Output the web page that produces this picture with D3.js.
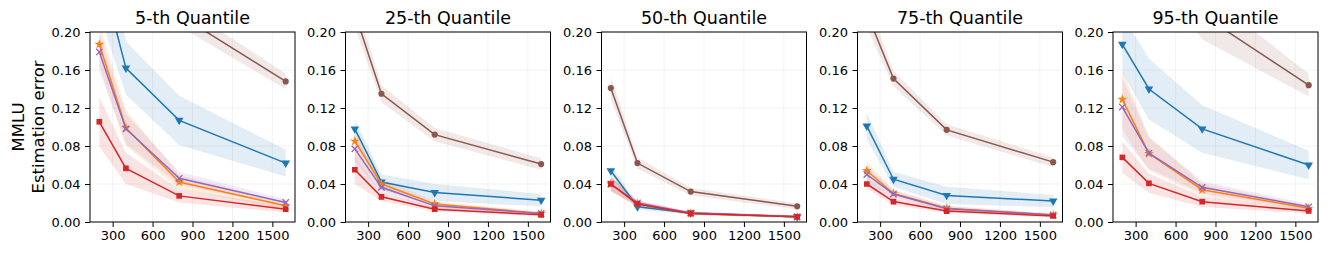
<!DOCTYPE html>
<html><head><meta charset="utf-8">
<script src="https://cdn.jsdelivr.net/npm/d3@7"></script>
<style>body{margin:0;background:#fff}svg{display:block;font-family:"DejaVu Sans",sans-serif}</style>
</head><body><svg id="c" width="1328" height="255"></svg>
<script>
const sampleSizes = [200, 400, 800, 1600];
const panelTitles = ["5-th Quantile", "25-th Quantile", "50-th Quantile", "75-th Quantile", "95-th Quantile"];
const xTicks = [300, 600, 900, 1200, 1500];
const yTicks = [0, 0.04, 0.08, 0.12, 0.16, 0.2];

const brownMean = [[0.42,0.30,0.218,0.148],[0.22,0.135,0.092,0.061],[0.141,0.062,0.032,0.0165],[0.22,0.151,0.097,0.063],[0.40,0.30,0.218,0.144]];
const brownErr  = [[0.03,0.02,0.012,0.008],[0.015,0.009,0.007,0.006],[0.012,0.006,0.004,0.003],[0.015,0.008,0.006,0.005],[0.04,0.03,0.026,0.012]];
const blueMean  = [[0.27,0.162,0.107,0.062],[0.098,0.042,0.031,0.023],[0.054,0.016,0.0095,0.0055],[0.101,0.045,0.028,0.022],[0.187,0.140,0.098,0.060]];
const blueErr   = [[0.05,0.028,0.026,0.014],[0.01,0.008,0.009,0.0065],[0.006,0.003,0.0015,0.0015],[0.014,0.008,0.009,0.0065],[0.03,0.032,0.025,0.015]];
const orangeMean= [[0.187,0.099,0.042,0.017],[0.085,0.040,0.019,0.009],[0.040,0.0195,0.009,0.0055],[0.054,0.030,0.0145,0.0075],[0.129,0.072,0.034,0.0145]];
const orangeErr = [[0.022,0.019,0.0075,0.0035],[0.015,0.006,0.003,0.0018],[0.007,0.003,0.0015,0.001],[0.0095,0.004,0.0025,0.0015],[0.031,0.018,0.0065,0.0025]];
const purpleMean= [[0.179,0.098,0.046,0.0205],[0.077,0.0365,0.017,0.009],[0.040,0.020,0.0095,0.0055],[0.050,0.0295,0.014,0.0075],[0.121,0.0725,0.0365,0.016]];
const purpleErr = [[0.02,0.016,0.007,0.0035],[0.0135,0.0055,0.003,0.0018],[0.007,0.003,0.0015,0.001],[0.009,0.004,0.0025,0.0015],[0.031,0.0165,0.0065,0.003]];
const redMean   = [[0.1055,0.0565,0.0275,0.0135],[0.055,0.0265,0.0135,0.0075],[0.040,0.019,0.009,0.0055],[0.040,0.0215,0.0115,0.0063],[0.068,0.0407,0.0214,0.0116]];
const redErr    = [[0.026,0.0165,0.007,0.0035],[0.015,0.0045,0.0025,0.0015],[0.008,0.003,0.0015,0.001],[0.005,0.0035,0.002,0.0013],[0.0165,0.01,0.0055,0.0025]];

const series = [
  {mean: brownMean,  err: brownErr,  color: "#8c564b", marker: "circle"},
  {mean: blueMean,   err: blueErr,   color: "#1f77b4", marker: "tridown"},
  {mean: orangeMean, err: orangeErr, color: "#ff7f0e", marker: "star"},
  {mean: purpleMean, err: purpleErr, color: "#9467bd", marker: "x"},
  {mean: redMean,    err: redErr,    color: "#d62728", marker: "square"}
];

(function () {
const svg = d3.select("#c");
const plotTop = 32, plotBottom = 222, pw = 205;
const lefts = [90, 345.5, 601.5, 857.5, 1113];
const y = d3.scaleLinear().domain([0, 0.2]).range([plotBottom, plotTop]);

lefts.forEach((left, p) => {
  const x = d3.scaleLinear().domain([130, 1670]).range([left, left + pw]);
  const g = svg.append("g");
  const clipId = "clip" + p;
  g.append("clipPath").attr("id", clipId).append("rect")
    .attr("x", left).attr("y", plotTop).attr("width", pw).attr("height", plotBottom - plotTop);

  g.selectAll(".gx").data(xTicks).join("line")
    .attr("x1", d => x(d)).attr("x2", d => x(d)).attr("y1", plotTop).attr("y2", plotBottom)
    .attr("stroke", "#b0b0b0").attr("stroke-opacity", 0.2).attr("stroke-width", 0.8);
  g.selectAll(".gy").data(yTicks).join("line")
    .attr("y1", d => y(d)).attr("y2", d => y(d)).attr("x1", left).attr("x2", left + pw)
    .attr("stroke", "#b0b0b0").attr("stroke-opacity", 0.2).attr("stroke-width", 0.8);

  const plot = g.append("g").attr("clip-path", `url(#${clipId})`);
  const area = d3.area().x((d, i) => x(sampleSizes[i]))
    .y0(d => y(d[0] - d[1])).y1(d => y(d[0] + d[1]));
  const line = d3.line().x((d, i) => x(sampleSizes[i])).y(d => y(d));

  series.forEach(s => {
    const pts = s.mean[p].map((m, i) => [m, s.err[p][i]]);
    plot.append("path").attr("d", area(pts)).attr("fill", s.color).attr("fill-opacity", 0.13).attr("stroke", "none");
  });
  series.forEach(s => {
    plot.append("path").attr("d", line(s.mean[p])).attr("fill", "none")
      .attr("stroke", s.color).attr("stroke-width", 1.5);
    s.mean[p].forEach((m, i) => {
      const cx = x(sampleSizes[i]), cy = y(m);
      let sym, size, tr = `translate(${cx},${cy})`, stroke = false;
      if (s.marker === "circle") { sym = d3.symbolCircle; size = 30; }
      else if (s.marker === "square") { sym = d3.symbolSquare; size = 32; }
      else if (s.marker === "star") { sym = d3.symbolStar; size = 30; }
      else if (s.marker === "tridown") { sym = d3.symbolTriangle; size = 32; tr += " rotate(180)"; }
      else { sym = d3.symbolTimes || d3.symbolCross; size = 28; stroke = true; }
      const path = plot.append("path").attr("d", d3.symbol().type(sym).size(size)()).attr("transform", tr);
      if (stroke) path.attr("fill", "none").attr("stroke", s.color).attr("stroke-width", 1.4);
      else path.attr("fill", s.color);
    });
  });

  const xa = g.append("g").attr("transform", `translate(0,${plotBottom})`)
    .call(d3.axisBottom(x).tickValues(xTicks).tickSize(5).tickPadding(4).tickFormat(d3.format("d")));
  const ya = g.append("g").attr("transform", `translate(${left},0)`)
    .call(d3.axisLeft(y).tickValues(yTicks).tickSize(5).tickPadding(4.5).tickFormat(d3.format(".2f")));
  [xa, ya].forEach(a => {
    a.select(".domain").remove();
    a.selectAll("text").attr("font-size", 13).attr("fill", "#000").attr("font-family", "DejaVu Sans");
    a.selectAll("line").attr("stroke", "#000");
  });
  g.append("rect").attr("x", left).attr("y", plotTop).attr("width", pw).attr("height", plotBottom - plotTop)
    .attr("fill", "none").attr("stroke", "#000").attr("stroke-width", 1);

  g.append("text").attr("x", left + pw / 2).attr("y", 24).attr("text-anchor", "middle")
    .attr("font-size", 17.5).text(panelTitles[p]);
});

const yl = svg.append("text").attr("transform", "translate(0,127) rotate(-90)")
  .attr("text-anchor", "middle").attr("font-size", 16.5);
yl.append("tspan").attr("x", 0).attr("y", 24).text("MMLU");
yl.append("tspan").attr("x", 0).attr("y", 44).text("Estimation error");
})();
</script></body></html>
